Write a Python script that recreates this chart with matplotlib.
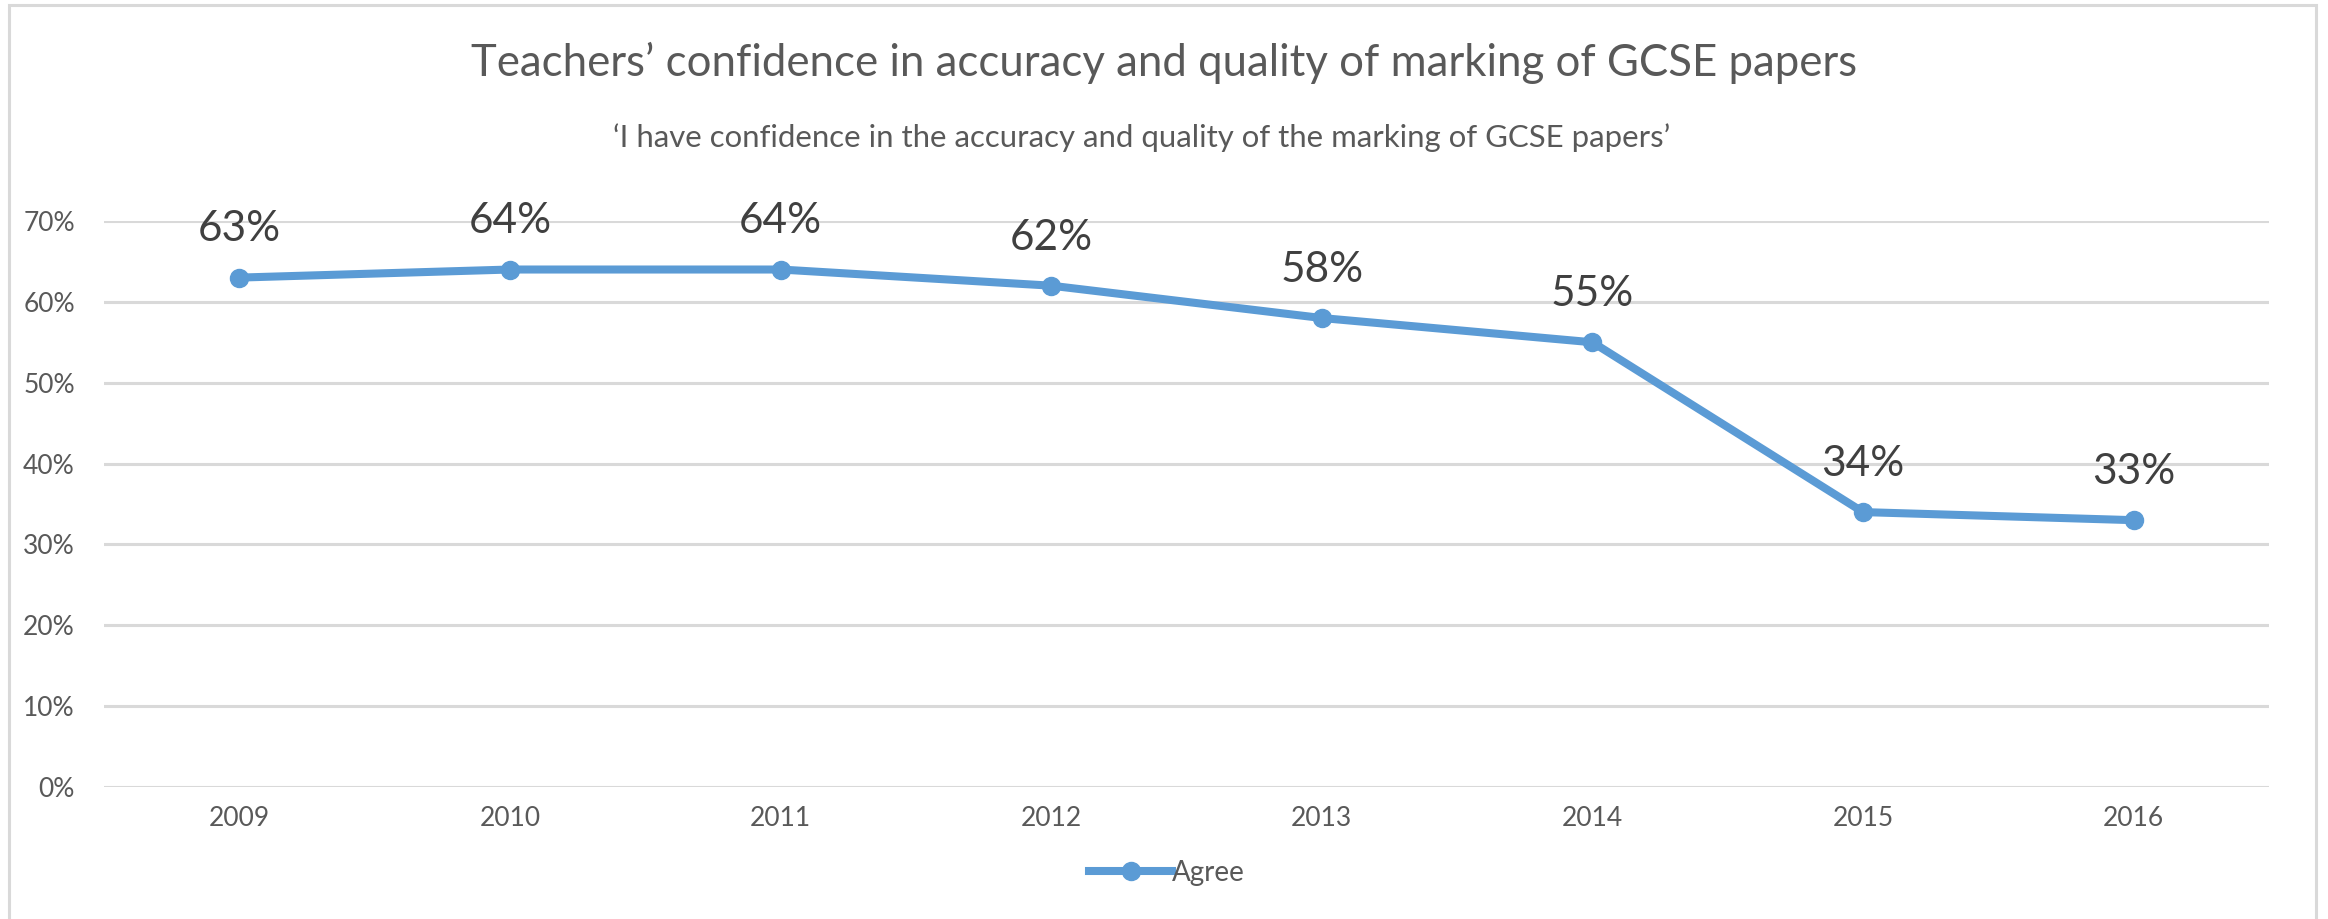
import matplotlib
matplotlib.use("Agg")
import matplotlib.pyplot as plt
from matplotlib.lines import Line2D
from matplotlib.patches import Rectangle
from matplotlib.ticker import FuncFormatter

years = ["2009", "2010", "2011", "2012", "2013", "2014", "2015", "2016"]
agree = [63, 64, 64, 62, 58, 55, 34, 33]
yticks = [0, 10, 20, 30, 40, 50, 60, 70]
title = "Teachers\u2019 confidence in accuracy and quality of marking of GCSE papers"
subtitle = "\u2018I have confidence in the accuracy and quality of the marking of GCSE papers\u2019"
series_name = "Agree"

plt.rcParams['font.family'] = ['Lato', 'DejaVu Sans']

W, H = 2328, 919
fig = plt.figure(figsize=(W / 100, H / 100), dpi=100)
fig.patch.set_facecolor("white")

# outer chart border
fig.patches.append(Rectangle((9 / W, 0 - 0.01), (2316 - 9) / W, (H - 5) / H + 0.01,
                             transform=fig.transFigure, fill=False,
                             edgecolor="#D9D9D9", linewidth=2.2))

left, right, top, bottom = 104, 2269, 221, 787
ax = fig.add_axes([left / W, 1 - bottom / H, (right - left) / W, (bottom - top) / H])

blue = "#5B9BD5"
x = list(range(len(years)))
ax.plot(x, agree, color=blue, linewidth=5.8, marker="o", markersize=13,
        solid_capstyle="round", solid_joinstyle="round", zorder=3, clip_on=False)

for xi, v in zip(x, agree):
    ax.annotate(f"{v}%", (xi, v), xytext=(0, 26), textcoords="offset points",
                ha="center", va="baseline", fontsize=30.5, color="#404040")

ax.set_xlim(-0.5, len(years) - 0.5)
ax.set_ylim(0, 70)
ax.set_yticks(yticks)
ax.yaxis.set_major_formatter(FuncFormatter(lambda v, p: f"{int(v)}%"))
ax.set_xticks(x)
ax.set_xticklabels(years)
ax.grid(axis="y", color="#D9D9D9", linewidth=2.2)
ax.set_axisbelow(True)
for s in ax.spines.values():
    s.set_visible(False)
ax.tick_params(axis="both", length=0, labelsize=19, labelcolor="#595959")
ax.tick_params(axis="y", pad=21)
ax.tick_params(axis="x", pad=14)

fig.text(0.5, 1 - 76 / H, title, ha="center", va="baseline", fontsize=31.5, color="#595959")
fig.text(1142 / W, 1 - 147 / H, subtitle, ha="center", va="baseline", fontsize=22.4, color="#595959")

handle = Line2D([], [], color=blue, linewidth=5.8, marker="o", markersize=13)
fig.legend([handle], [series_name], loc="center", bbox_to_anchor=(1167 / W, 1 - 873 / H),
           frameon=False, fontsize=20, handlelength=3.0, handletextpad=0.0,
           labelcolor="#595959")

fig.savefig("out.png", dpi=100, facecolor="white")
